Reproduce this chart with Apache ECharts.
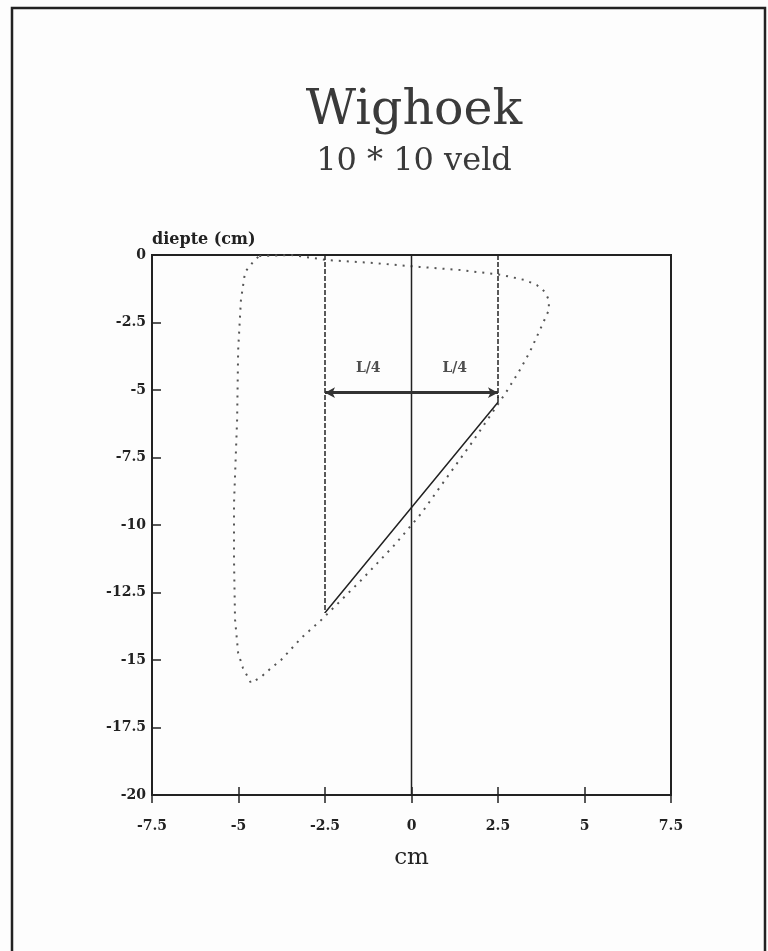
<!DOCTYPE html>
<html>
<head>
<meta charset="utf-8">
<script src="https://cdn.jsdelivr.net/npm/echarts@6/dist/echarts.min.js"></script>
<style>
  html, body { margin: 0; padding: 0; background: #fdfdfd; }
  #chart { width: 768px; height: 951px; }
</style>
</head>
<body>
<div id="chart"></div>
<script>
// dotted dose profile (x cm, depth cm)
const profile = [
  [-4.43, -0.07], [-4.58, -0.26], [-4.81, -0.63], [-4.93, -1.67], [-5.01, -3.52],
  [-5.04, -6.1], [-5.13, -9.2], [-5.13, -11.3], [-5.1, -13.5], [-5.01, -14.74],
  [-4.87, -15.3], [-4.64, -15.85], [-4.35, -15.63], [-4.06, -15.3], [-3.77, -15.0],
  [-3.19, -14.19], [-2.61, -13.52], [-2.03, -12.78], [-1.45, -12.04], [-0.49, -10.74],
  [0.29, -9.56], [0.72, -8.78], [1.74, -6.96], [2.72, -5.11], [3.1, -4.33],
  [3.42, -3.59], [3.71, -2.78], [3.97, -2.04], [3.97, -1.67], [3.86, -1.37],
  [3.62, -1.11], [3.28, -0.93], [2.61, -0.74], [1.45, -0.56], [0.23, -0.44],
  [-1.07, -0.30], [-2.41, -0.19], [-3.48, 0], [-4.43, -0.04]
];
// wedge edge (solid)
const wedge = [[-2.5, -13.25], [2.5, -5.45], [2.5, -5.25]];
const centerLine = [[0, 0], [0, -20]];
const leftEdge = [[-2.5, 0], [-2.5, -13.25]];
const rightEdge = [[2.5, 0], [2.5, -5.3]];
const arrowEnds = [[-2.5, -5.1], [2.5, -5.1]];
const quarterLabels = [[-1.25, -4.2, 'L/4'], [1.25, -4.2, 'L/4']];

const font = '"DejaVu Serif", serif';
const ink = '#222';

const chart = echarts.init(document.getElementById('chart'));
chart.setOption({
  backgroundColor: '#fdfdfd',
  animation: false,
  title: {
    text: 'Wighoek',
    subtext: '10 * 10 veld',
    left: 409,
    textAlign: 'center',
    top: 82,
    itemGap: 10,
    textStyle: { fontFamily: font, fontSize: 49, fontWeight: 'normal', color: '#3a3a3a' },
    subtextStyle: { fontFamily: font, fontSize: 32, color: '#3a3a3a' }
  },
  graphic: [{
    type: 'rect',
    shape: { x: 12, y: 8, width: 753, height: 960 },
    style: { fill: 'none', stroke: ink, lineWidth: 2.5 },
    silent: true
  }],
  grid: {
    left: 152, right: 97, top: 255, bottom: 156,
    show: true, borderColor: ink, borderWidth: 2, backgroundColor: 'transparent'
  },
  xAxis: [{
    type: 'value', min: -7.5, max: 7.5, interval: 2.5, position: 'bottom',
    name: 'cm', nameLocation: 'middle', nameGap: 52,
    nameTextStyle: { fontFamily: font, fontSize: 23, color: ink },
    axisLine: { onZero: false, lineStyle: { color: ink, width: 2 } },
    axisTick: { inside: true, length: 8, lineStyle: { color: ink, width: 1.5 } },
    axisLabel: { fontFamily: font, fontSize: 14, fontWeight: 'bold', color: ink, margin: 24 },
    splitLine: { show: false }
  }, {
    type: 'value', min: -7.5, max: 7.5, interval: 2.5, position: 'bottom',
    axisLine: { show: false, onZero: false },
    axisTick: { inside: false, length: 8, lineStyle: { color: ink, width: 1.5 } },
    axisLabel: { show: false },
    splitLine: { show: false }
  }],
  yAxis: {
    type: 'value', min: -20, max: 0, interval: 2.5, position: 'left',
    name: 'diepte (cm)', nameLocation: 'end', nameGap: 7,
    nameTextStyle: { fontFamily: font, fontSize: 16, fontWeight: 'bold', color: ink, align: 'left', verticalAlign: 'bottom' },
    axisLine: { onZero: false, lineStyle: { color: ink, width: 2 } },
    axisTick: { inside: true, length: 9, lineStyle: { color: ink, width: 1.5 } },
    axisLabel: { fontFamily: font, fontSize: 14, fontWeight: 'bold', color: ink, margin: 6 },
    splitLine: { show: false }
  },
  series: [
    {
      type: 'line', data: profile, showSymbol: false,
      lineStyle: { color: '#555', width: 2, type: [2, 6] }
    },
    {
      type: 'line', data: wedge, showSymbol: false,
      lineStyle: { color: ink, width: 1.5 }
    },
    {
      type: 'line', data: centerLine, showSymbol: false,
      lineStyle: { color: ink, width: 1.5 }
    },
    {
      type: 'line', data: leftEdge, showSymbol: false,
      lineStyle: { color: ink, width: 1.5, type: [5, 2] }
    },
    {
      type: 'line', data: rightEdge, showSymbol: false,
      lineStyle: { color: ink, width: 1.5, type: [5, 2] },
      markLine: {
        silent: true,
        symbol: ['arrow', 'arrow'],
        symbolSize: [8, 10],
        label: { show: false },
        lineStyle: { color: '#333', width: 3, type: 'solid' },
        data: [[{ coord: arrowEnds[0] }, { coord: arrowEnds[1] }]]
      }
    },
    {
      type: 'scatter', symbolSize: 0,
      data: quarterLabels,
      label: {
        show: true, position: 'inside',
        formatter: p => p.value[2],
        fontFamily: font, fontSize: 14, fontWeight: 'bold', color: ink
      }
    }
  ]
});
</script>
</body>
</html>
